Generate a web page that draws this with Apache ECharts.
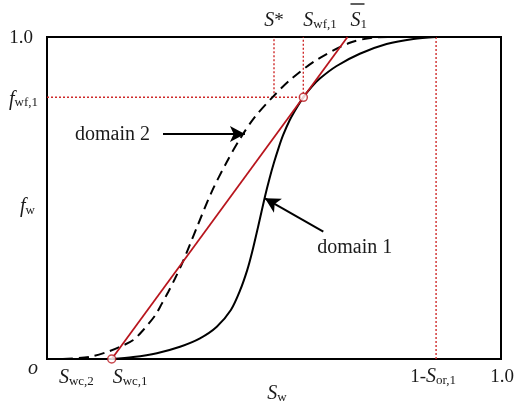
<!DOCTYPE html>
<html>
<head>
<meta charset="utf-8">
<script src="https://cdn.jsdelivr.net/npm/echarts@6/dist/echarts.min.js"></script>
<style>
  html, body { margin: 0; padding: 0; background: #fff; }
  #chart { width: 519px; height: 405px; }
</style>
</head>
<body>
<div id="chart"></div>
<script>
// Fractional-flow curve of domain 1 (solid): water saturation Sw vs. water cut fw
const sw1 = [0.1425, 0.19, 0.242, 0.293, 0.337, 0.374, 0.405, 0.425, 0.441, 0.452, 0.465, 0.480, 0.490, 0.500, 0.510, 0.520, 0.535, 0.550, 0.5646, 0.583, 0.601, 0.638, 0.689, 0.748, 0.807, 0.857];
const fw1 = [0, 0.006, 0.018, 0.038, 0.064, 0.100, 0.152, 0.212, 0.276, 0.333, 0.411, 0.504, 0.560, 0.610, 0.655, 0.695, 0.743, 0.7805, 0.8127, 0.845, 0.871, 0.910, 0.948, 0.978, 0.994, 1.0];

// Fractional-flow curve of domain 2 (dashed)
const sw2 = [0.035, 0.095, 0.135, 0.161, 0.190, 0.212, 0.238, 0.253, 0.267, 0.282, 0.297, 0.315, 0.331, 0.363, 0.396, 0.427, 0.458, 0.498, 0.535, 0.594, 0.667, 0.718, 0.755];
const fw2 = [0, 0.007, 0.023, 0.038, 0.059, 0.090, 0.135, 0.172, 0.208, 0.250, 0.295, 0.356, 0.412, 0.520, 0.612, 0.688, 0.752, 0.815, 0.866, 0.929, 0.982, 0.998, 1.0];

// Characteristic saturations
const swc2 = 0.035;   // connate water, domain 2
const swc1 = 0.1425;  // connate water, domain 1
const sStar = 0.5;    // S*
const swf1 = 0.5646;  // front saturation, domain 1
const fwf1 = 0.8127;  // water cut at the front
const sor1 = 0.143;   // residual oil, domain 1
// Welge tangent from (Swc,1, 0) through the front point reaches fw = 1 at the average saturation
const sBar1 = swc1 + (swf1 - swc1) / fwf1;

// Pointer arrows for the curve names, [Sw, fw] of tail and head
const arrowDomain2 = [[0.2555, 0.699], [0.436, 0.699]];
const arrowDomain1 = [[0.6086, 0.3953], [0.480, 0.499]];

const FONT = '"Liberation Serif", "Times New Roman", serif';
const INK = '#1a1a1a';
const RED = '#b8151d';
const DOT = '#cf2a2a';
const zip = (xs, ys) => xs.map((x, i) => [x, ys[i]]);

const chart = echarts.init(document.getElementById('chart'));

const hiddenAxis = {
  type: 'value', min: 0, max: 1,
  axisLine: { show: false }, axisTick: { show: false },
  axisLabel: { show: false }, splitLine: { show: false }
};
const dotted = { type: [2, 2], width: 1.4, color: DOT };
const plain = (data, lineStyle, z) => ({
  type: 'line', data, showSymbol: false, silent: true, z,
  sampling: null, lineStyle, emphasis: { disabled: true }
});
const arrowLine = (a) => ({
  type: 'line', data: [], silent: true, z: 6,
  markLine: {
    silent: true,
    symbol: ['none', 'arrow'],
    symbolSize: [12, 15],
    label: { show: false },
    lineStyle: { color: '#000', width: 2, type: 'solid' },
    emphasis: { disabled: true },
    data: [[{ coord: a[0] }, { coord: a[1] }]]
  }
});

chart.setOption({
  animation: false,
  grid: { left: 47, top: 37, width: 454, height: 322, show: true, borderColor: '#000', borderWidth: 2 },
  xAxis: hiddenAxis,
  yAxis: hiddenAxis,
  series: [
    // guide lines
    plain([[0, fwf1], [swf1, fwf1], [swf1, 1]], dotted, 1),
    plain([[sStar, fwf1], [sStar, 1]], dotted, 1),
    plain([[1 - sor1, 0], [1 - sor1, 1]], dotted, 1),
    // curves
    Object.assign(plain(zip(sw1, fw1), { color: '#000', width: 2 }, 3), { smooth: 0.3 }),
    Object.assign(plain(zip(sw2, fw2), { color: '#000', width: 2, type: [10, 6] }, 3), { smooth: 0.3 }),
    // tangent
    plain([[swc1, 0], [sBar1, 1]], { color: RED, width: 1.8 }, 4),
    // tangent points
    {
      type: 'scatter', silent: true, z: 5,
      data: [[swc1, 0], [swf1, fwf1]],
      symbol: 'circle', symbolSize: 8,
      itemStyle: { color: '#fff', borderColor: RED, borderWidth: 1.5 }
    },
    arrowLine(arrowDomain2),
    arrowLine(arrowDomain1)
  ]
});

const px = (x, y) => chart.convertToPixel({ gridIndex: 0 }, [x, y]);

const rich = {
  n: { fontFamily: FONT, fontSize: 19, lineHeight: 22, verticalAlign: 'bottom', fill: INK },
  i: { fontFamily: FONT, fontSize: 20, fontStyle: 'italic', lineHeight: 22, verticalAlign: 'bottom', fill: INK },
  s: { fontFamily: FONT, fontSize: 13, lineHeight: 14, verticalAlign: 'bottom', fill: INK },
  d: { fontFamily: FONT, fontSize: 20, lineHeight: 22, verticalAlign: 'bottom', fill: INK }
};
const label = (text, x, y, align) => ({
  type: 'text', silent: true, z: 10,
  style: { x, y, text, rich, align, verticalAlign: 'middle', fill: INK }
});

const origin = px(0, 0);
const top1 = px(0, 1);
const pFront = px(swf1, fwf1);
const pStar = px(sStar, 1);
const pBar = px(sBar1, 1);
const a2 = px(arrowDomain2[0][0], arrowDomain2[0][1]);
const a1 = px(arrowDomain1[0][0], arrowDomain1[0][1]);
const mid = px(0.5, 0.5);
const bottomY = origin[1] + 18;
const topY = top1[1] - 17;

chart.setOption({
  graphic: [
    // left side
    label('{n|1.0}', top1[0] - 14, top1[1], 'right'),
    label('{i|f}{s|wf,1}', origin[0] - 9, pFront[1] + 1, 'right'),
    label('{i|f}{s|w}', origin[0] - 12, mid[1] + 8, 'right'),
    label('{i|o}', origin[0] - 14, origin[1] + 9, 'center'),
    // bottom
    label('{i|S}{s|wc,2}', px(swc2, 0)[0] - 4, bottomY, 'left'),
    label('{i|S}{s|wc,1}', px(swc1, 0)[0] + 1, bottomY, 'left'),
    label('{n|1-}{i|S}{s|or,1}', px(1 - sor1, 0)[0] - 3, bottomY - 1, 'center'),
    label('{n|1.0}', px(1, 0)[0] + 1, bottomY - 1, 'center'),
    label('{i|S}{s|w}', mid[0] + 3, origin[1] + 34, 'center'),
    // top
    label('{i|S}{n|*}', pStar[0], topY, 'center'),
    label('{i|S}{s|wf,1}', pFront[0], topY, 'left'),
    label('{i|S}{s|1}', pBar[0] + 3, topY, 'left'),
    {
      type: 'line', silent: true, z: 10,
      shape: { x1: pBar[0] + 3, y1: topY - 16, x2: pBar[0] + 17, y2: topY - 16 },
      style: { stroke: INK, lineWidth: 1.4 }
    },
    // curve names
    label('{d|domain 2}', a2[0] - 13, a2[1], 'right'),
    label('{d|domain 1}', a1[0] - 6, a1[1] + 15, 'left')
  ]
});
</script>
</body>
</html>
